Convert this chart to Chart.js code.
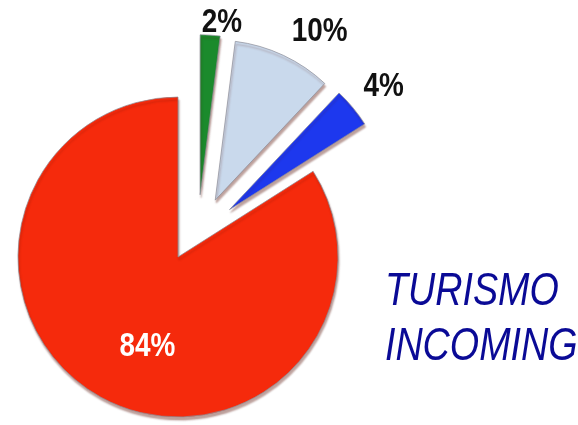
<!DOCTYPE html>
<html>
<head>
<meta charset="utf-8">
<script src="https://cdn.jsdelivr.net/npm/chart.js@4/dist/chart.umd.min.js"></script>
<style>
  body { margin: 0; background: #fff; }
  #wrap { position: relative; width: 578px; height: 425px; overflow: hidden; }
  #titolo {
    position: absolute; left: 366px; top: 262px; width: 210px;
    text-align: center; font: italic 46px/55px "Liberation Sans", sans-serif;
    color: #0a0a96; transform: scaleX(0.82); transform-origin: 50% 0;
    white-space: nowrap;
  }
</style>
</head>
<body>
<div id="wrap">
  <canvas id="myChart" width="578" height="425"></canvas>
  <div id="titolo">TURISMO<br>INCOMING</div>
</div>
<script>
const categorie = ['Categoria 1', 'Categoria 2', 'Categoria 3', 'Categoria 4'];
const valori = [2, 10, 4, 84];

const colori = ['#1b8a2c', '#c9d9ec', '#1d38ee', '#f52a0c'];
const stacco = [66, 68, 70, 0];            // how far each slice is pulled out
const giroStacco = [16, 8, -3, 0];         // direction nudge of the pull, degrees
const distEtichetta = [238, 266, 267, 95]; // label distance from centre
const giroEtichetta = [7, 7, 0, -10];      // label angle nudge, degrees
const coloreEtichetta = ['#111', '#111', '#111', '#fff'];

const rad = d => d * Math.PI / 180;

// pulls slices out without the radius change the built-in offset does
const esploso = {
  id: 'esploso',
  beforeDatasetDraw(chart, args) {
    const ctx = chart.ctx;
    const meta = args.meta;
    ctx.save();
    ctx.shadowColor = 'rgba(90, 20, 10, 0.4)';
    ctx.shadowBlur = 2;
    ctx.shadowOffsetX = 1;
    ctx.shadowOffsetY = 3;
    meta.data.forEach((arc, i) => {
      const dir = (arc.startAngle + arc.endAngle) / 2 + rad(giroStacco[i]);
      ctx.save();
      ctx.translate(Math.cos(dir) * stacco[i], Math.sin(dir) * stacco[i]);
      arc.draw(ctx);
      ctx.restore();
    });
    ctx.restore();
    return false;
  }
};

// % labels next to each slice, narrow like Arial Narrow
const etichette = {
  id: 'etichette',
  afterDatasetsDraw(chart) {
    const ctx = chart.ctx;
    const meta = chart.getDatasetMeta(0);
    meta.data.forEach((arc, i) => {
      const mid = (arc.startAngle + arc.endAngle) / 2 + rad(giroEtichetta[i]);
      const x = arc.x + Math.cos(mid) * distEtichetta[i];
      const y = arc.y + Math.sin(mid) * distEtichetta[i];
      ctx.save();
      ctx.translate(x, y);
      ctx.scale(0.82, 1);
      ctx.font = 'bold 34px "Liberation Sans", sans-serif';
      ctx.textAlign = 'center';
      ctx.textBaseline = 'middle';
      ctx.fillStyle = coloreEtichetta[i];
      ctx.fillText(valori[i] + '%', 0, 0);
      ctx.restore();
    });
  }
};

const config = {
  type: 'pie',
  data: {
    labels: categorie,
    datasets: [{
      data: valori,
      backgroundColor: colori,
      borderColor: 'rgba(140, 140, 150, 0.7)',
      borderWidth: 1,
      radius: 160
    }]
  },
  options: {
    responsive: false,
    animation: false,
    layout: { padding: { left: 0, right: 222, top: 89, bottom: 0 } },
    plugins: {
      legend: { display: false },
      tooltip: { enabled: false },
      title: { display: false }
    }
  },
  plugins: [esploso, etichette]
};

const myChart = new Chart(document.getElementById('myChart'), config);
</script>
</body>
</html>
